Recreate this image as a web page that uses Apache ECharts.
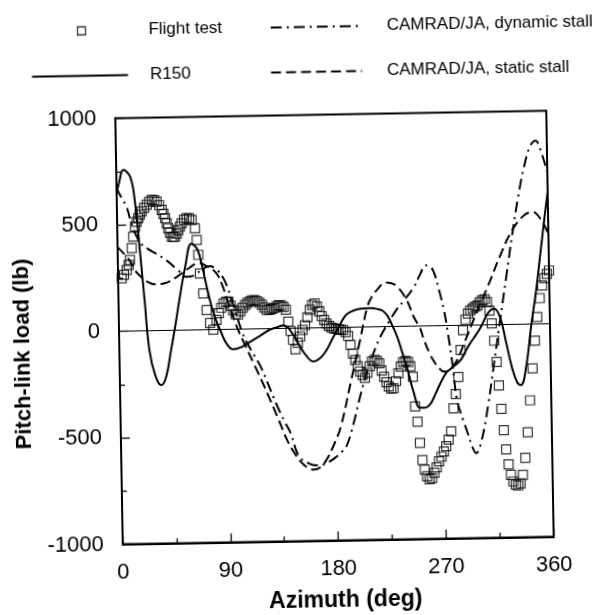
<!DOCTYPE html>
<html>
<head>
<meta charset="utf-8">
<script src="https://cdn.jsdelivr.net/npm/echarts@6/dist/echarts.min.js"></script>
<style>
  html, body { margin: 0; padding: 0; background: #fff; overflow: hidden; }
  #chart { width: 605px; height: 615px; transform: rotate(-1deg); transform-origin: 334px 327.5px; }
</style>
</head>
<body>
<div id="chart"></div>
<script>
// Axis tick values
const azimuthTicks = [0, 90, 180, 270, 360];
const loadTicks = [-1000, -500, 0, 500, 1000];

// Series names
const seriesNames = ['Flight test', 'R150', 'CAMRAD/JA, dynamic stall', 'CAMRAD/JA, static stall'];

// Measured pitch-link load, [azimuth deg, load lb]
const flightTest = [
  [3,248],[5,265],[7.3,287],[9,310],[10.2,334],[11.8,389],[13.3,443],[14.9,490],[16.3,512],[17.7,529],
  [19,545],[20.6,560],[22.7,577],[24.9,591],[27,605],[29.2,614],[31.2,612],[33.3,605],[35.3,588],[37.4,566],
  [38.8,548],[40.1,527],[41.4,503],[42.6,479],[44,458],[45.4,440],[46.8,438],[48.1,439],[49.6,453],[51,470],
  [52.4,487],[53.9,502],[56,518],[58.1,525],[60.2,524],[62.3,516],[64.9,477],[66.2,422],[67.3,352],[68.4,265],
  [70.9,171],[73.5,92],[76.1,31],[78.8,-1],[81.5,45],[83.6,77],[85.7,102],[87.7,122],[89.8,130],[91.8,130],
  [93.7,111],[95.6,90],[97.6,71],[99.6,68],[101.6,84],[103.7,100],[105.7,113],[107.7,123],[109.8,130],[111.8,135],
  [113.8,134],[115.8,129],[117.7,122],[119.7,112],[121.7,99],[123.6,88],[125.6,87],[127.6,91],[129.7,96],[131.7,103],
  [133.7,110],[135.7,107],[137.7,100],[139.6,87],[141.5,31],[143.3,-13],[145.2,-54],[147.1,-99],[149.2,-69],[151.2,-40],
  [153.3,-9],[155.4,13],[157.5,50],[159.6,85],[161.7,107],[163.7,115],[165.7,99],[167.6,77],[169.5,54],[171.5,36],
  [173.4,19],[175.4,8],[177.4,0],[179.4,-4],[181.4,-7],[183.4,-9],[185.3,-11],[187.3,-13],[189.3,-23],[191.3,-41],
  [193.1,-83],[195,-124],[196.9,-154],[198.8,-184],[200.7,-209],[202.7,-225],[204.6,-239],[206.7,-215],[208.8,-185],[210.9,-163],
  [212.9,-155],[214.9,-160],[216.9,-172],[218.7,-206],[220.7,-235],[222.6,-261],[224.5,-281],[226.5,-292],[228.5,-290],[230.6,-257],
  [232.7,-220],[234.8,-188],[236.9,-168],[238.9,-163],[240.9,-168],[242.8,-188],[244.7,-238],[246.2,-377],[248,-449],[249.7,-549],
  [251.5,-630],[253.3,-674],[255.2,-706],[257.2,-720],[259.2,-715],[261.3,-691],[263.3,-665],[265.4,-637],[267.5,-615],[269.6,-591],
  [271.6,-566],[273.7,-536],[275.9,-497],[278.2,-389],[280.4,-322],[282.7,-242],[285,-116],[287.3,-23],[289.5,27],[291.6,55],
  [293.6,69],[295.7,78],[297.7,86],[299.7,92],[301.7,106],[303.8,116],[305.8,121],[307.7,106],[309.6,66],[311.4,6],
  [313.2,-75],[314.9,-175],[316.5,-286],[318.2,-396],[319.9,-496],[321.6,-586],[323.4,-657],[325.2,-706],[327.1,-737],[329.1,-752],
  [331.1,-757],[333.1,-747],[335.2,-707],[337.5,-627],[339.9,-508],[342.3,-358],[344.8,-208],[347.2,-78],[349.5,32],[351.8,121],
  [354,180],[356.1,214],[358.2,234],[360,250]
];

// R150 prediction
const r150 = [
  [0,650],[2.1,695],[5.9,757],[11.6,724],[15.2,604],[18.5,384],[21.8,144],[25.1,-91],[29.7,-212],[34.5,-256],
  [38.7,-218],[43,-99],[47.4,31],[50.8,141],[56.3,300],[61.6,405],[66.5,379],[70.3,299],[74,198],[77.7,108],
  [81.5,38],[85.3,-13],[89.2,-63],[95.1,-94],[102.1,-84],[109.2,-60],[118.3,-31],[125.3,-7],[131.4,5],[137.4,14],
  [141.4,2],[146.2,-39],[151.1,-87],[156,-130],[161.9,-158],[167.9,-141],[173.1,-105],[178.2,-52],[182.3,-12],[186.5,32],
  [190.6,62],[197.6,81],[204.6,87],[210.7,88],[215.6,84],[220.6,74],[224.5,49],[228.4,3],[232.2,-48],[236,-118],
  [239.8,-190],[245.4,-315],[250.2,-384],[254.2,-384],[259.3,-364],[263.4,-320],[267.6,-271],[272.7,-221],[276.8,-202],[285,-162],
  [289,-123],[293.1,-85],[298.3,-44],[302.4,-8],[308.6,57],[313.6,75],[318.5,33],[323.2,-86],[327.8,-206],[332,-275],
  [335,-285],[339.5,-200],[344.5,0],[349,160],[353,330],[357,500],[360,620]
];

// CAMRAD/JA with static stall
const staticStall = [
  [0,395],[9.4,335],[14.2,284],[19.1,254],[24.1,231],[31,217],[39,222],[49.1,251],[59.2,290],[67.3,314],
  [74.3,298],[82.2,264],[87,207],[90.8,137],[98.4,12],[105.1,-75],[111.9,-161],[118.6,-246],[125.3,-335],[132,-428],
  [138.7,-523],[144.6,-584],[149.4,-624],[155.3,-655],[160.3,-666],[166.3,-655],[171.5,-620],[177.7,-552],[183.9,-465],[192.6,-263],
  [201.2,-61],[207.7,94],[212,145],[215.9,172],[223,206],[228,203],[233,187],[240.8,122],[246.5,41],[251.4,-9],
  [254.2,-59],[259,-129],[262.9,-170],[266.8,-200],[270.7,-216],[274.7,-211],[280.9,-172],[288.2,-83],[298.6,56],[309,185],
  [319.4,324],[329.8,443],[340,512],[347,526],[355,481],[360,420]
];

// CAMRAD/JA with dynamic stall
const dynamicStall = [
  [0,675],[2,648],[8.1,582],[12.8,488],[19.6,410],[25.5,383],[31.5,363],[40.4,330],[50.2,282],[57.1,250],
  [64.1,257],[70.2,284],[76.3,298],[82.2,283],[89.1,227],[95.7,116],[103.3,-21],[110.1,-100],[117.8,-178],[124.5,-271],
  [131.2,-366],[137,-438],[141.8,-492],[148.5,-602],[156.4,-635],[162.4,-645],[168.4,-643],[173.4,-631],[178.5,-612],[184.6,-582],
  [188.7,-553],[194,-463],[200.4,-326],[205.7,-225],[209.9,-156],[218.2,-47],[226.5,31],[232.6,83],[237.8,117],[247,184],
  [252.1,241],[257.3,284],[261.3,275],[264.2,245],[267.9,166],[271.6,73],[274.3,-21],[277.9,-178],[281.3,-351],[286,-443],
  [289.8,-508],[293.6,-574],[296.5,-602],[300.7,-555],[307.3,-374],[312.9,-175],[318.5,24],[324.1,221],[329.7,419],[335.3,600],
  [340.7,740],[345.9,835],[350.5,860],[355.5,800],[360,710]
];

const FONT = '"Liberation Sans", Arial, Helvetica, sans-serif';
const chart = echarts.init(document.getElementById('chart'), null, { renderer: 'canvas' });

function legendBox(name, left, top, w, h, pad, extra) {
  return Object.assign({
    data: [name], left: left, top: top, orient: 'horizontal', padding: 0,
    itemWidth: w, itemHeight: h, selectedMode: false,
    itemStyle: { opacity: 0 },
    textStyle: { fontFamily: FONT, fontSize: 17, color: '#000', padding: [0, 0, 0, pad] }
  }, extra || {});
}

const axisCommon = {
  axisLine: { show: true, onZero: false, lineStyle: { color: '#000', width: 2 } },
  axisTick: { show: true, inside: true, length: 9, lineStyle: { color: '#000', width: 1.3 } },
  minorTick: { show: true, splitNumber: 2, length: 5, lineStyle: { color: '#000', width: 1.3 } },
  splitLine: { show: false }
};

const option = {
  animation: false,
  backgroundColor: '#fff',
  legend: [
    legendBox(seriesNames[0], 82, 18, 8, 8, 58, {
      icon: 'rect',
      itemStyle: { color: 'rgba(0,0,0,0)', borderColor: '#000', borderWidth: 1.3 }
    }),
    legendBox(seriesNames[1], 35.5, 63, 96, 2, 17),
    legendBox(seriesNames[2], 275, 18, 91, 2, 20),
    legendBox(seriesNames[3], 274.5, 63, 91, 2, 20)
  ],
  grid: {
    left: 119, right: 55, top: 114.5, bottom: 74.5,
    show: true, borderColor: '#000', borderWidth: 2, backgroundColor: 'transparent'
  },
  xAxis: Object.assign({
    type: 'value', min: azimuthTicks[0], max: azimuthTicks[azimuthTicks.length - 1], interval: 90,
    axisLabel: { fontFamily: FONT, fontSize: 22, color: '#000', margin: 17 }
  }, axisCommon),
  yAxis: Object.assign({
    type: 'value', min: loadTicks[0], max: loadTicks[loadTicks.length - 1], interval: 500,
    axisLabel: { fontFamily: FONT, fontSize: 22, color: '#000', margin: 19, formatter: v => String(v) }
  }, axisCommon),
  graphic: [
    { type: 'text', x: 341, y: 601,
      style: { text: 'Azimuth (deg)', font: 'bold 23px ' + FONT, fill: '#000', align: 'center', verticalAlign: 'middle' } },
    { type: 'text', x: 22.5, y: 348.6, rotation: Math.PI / 2,
      style: { text: 'Pitch-link load (lb)', font: 'bold 22px ' + FONT, fill: '#000', align: 'center', verticalAlign: 'middle' } }
  ],
  series: [
    {
      name: seriesNames[1], type: 'line', data: r150, smooth: 0.4, symbol: 'none',
      lineStyle: { color: '#000', width: 2 }, itemStyle: { color: '#000' }, z: 3,
      markLine: {
        silent: true, symbol: 'none', label: { show: false },
        lineStyle: { color: '#000', width: 1, type: 'solid' },
        data: [{ yAxis: 0 }]
      }
    },
    {
      name: seriesNames[3], type: 'line', data: staticStall, smooth: 0.4, symbol: 'none',
      lineStyle: { color: '#000', width: 2, type: [10, 5] }, itemStyle: { color: '#000' }, z: 3
    },
    {
      name: seriesNames[2], type: 'line', data: dynamicStall, smooth: 0.4, symbol: 'none',
      lineStyle: { color: '#000', width: 2, type: [11, 5, 2, 5] }, itemStyle: { color: '#000' }, z: 3
    },
    {
      name: seriesNames[0], type: 'scatter', data: flightTest, symbol: 'rect', symbolSize: 9,
      itemStyle: { color: 'rgba(0,0,0,0)', borderColor: '#000', borderWidth: 1.2 }, z: 4
    }
  ]
};
chart.setOption(option);
</script>
</body>
</html>
